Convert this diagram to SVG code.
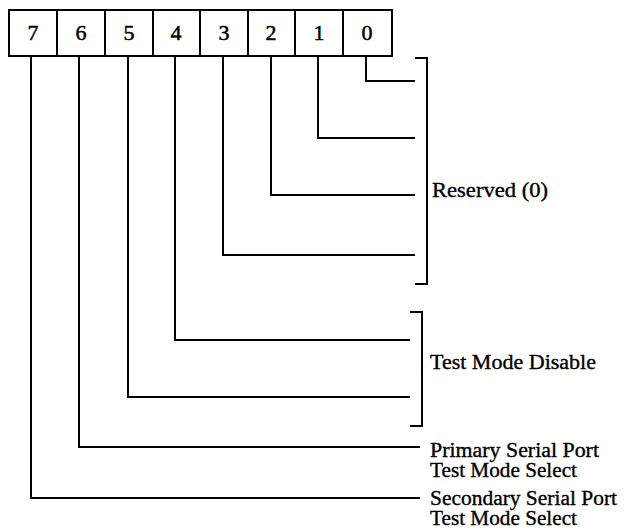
<svg xmlns="http://www.w3.org/2000/svg" width="625" height="530" viewBox="0 0 625 530">
<style>
.box{fill:#fff;stroke:#000;stroke-width:2}
.ln{fill:none;stroke:#000;stroke-width:2}
.d{font-family:"Liberation Serif",serif;font-size:22px;text-anchor:middle;stroke:#000;stroke-width:0.5}
.t{font-family:"Liberation Serif",serif;font-size:20.5px;stroke:#000;stroke-width:0.35}
</style>
<rect width="625" height="530" fill="#fff"/>
<g id="register">
<g id="bit7"><rect class="box" x="9" y="10" width="48" height="46"/><text class="d" x="33" y="40">7</text></g>
<g id="bit6"><rect class="box" x="57" y="10" width="48" height="46"/><text class="d" x="81" y="40">6</text></g>
<g id="bit5"><rect class="box" x="105" y="10" width="48" height="46"/><text class="d" x="129" y="40">5</text></g>
<g id="bit4"><rect class="box" x="153" y="10" width="47" height="46"/><text class="d" x="176" y="40">4</text></g>
<g id="bit3"><rect class="box" x="200" y="10" width="48" height="46"/><text class="d" x="224" y="40">3</text></g>
<g id="bit2"><rect class="box" x="248" y="10" width="47" height="46"/><text class="d" x="271" y="40">2</text></g>
<g id="bit1"><rect class="box" x="295" y="10" width="48" height="46"/><text class="d" x="319" y="40">1</text></g>
<g id="bit0"><rect class="box" x="343" y="10" width="49" height="46"/><text class="d" x="367" y="40">0</text></g>
</g>
<g id="connectors">
<path class="ln" d="M366 56 V81 H415"/>
<path class="ln" d="M318 56 V138 H415"/>
<path class="ln" d="M271 56 V195 H415"/>
<path class="ln" d="M223 56 V255 H415"/>
<path class="ln" d="M175 56 V340 H410"/>
<path class="ln" d="M128 56 V397 H410"/>
<path class="ln" d="M79 56 V447 H420"/>
<path class="ln" d="M31 56 V498 H420"/>
<path class="ln" d="M415 58 H427 V284 H415"/>
<path class="ln" d="M410 312 H422 V426 H410"/>
</g>
<g id="labels">
<text class="t" x="432" y="197" textLength="116" lengthAdjust="spacingAndGlyphs">Reserved (0)</text>
<text class="t" x="430" y="369" textLength="166" lengthAdjust="spacingAndGlyphs">Test Mode Disable</text>
<text class="t" x="430" y="457" textLength="169" lengthAdjust="spacingAndGlyphs">Primary Serial Port</text>
<text class="t" x="430" y="477" textLength="147" lengthAdjust="spacingAndGlyphs">Test Mode Select</text>
<text class="t" x="430" y="505" textLength="187" lengthAdjust="spacingAndGlyphs">Secondary Serial Port</text>
<text class="t" x="430" y="525" textLength="147" lengthAdjust="spacingAndGlyphs">Test Mode Select</text>
</g>
</svg>
